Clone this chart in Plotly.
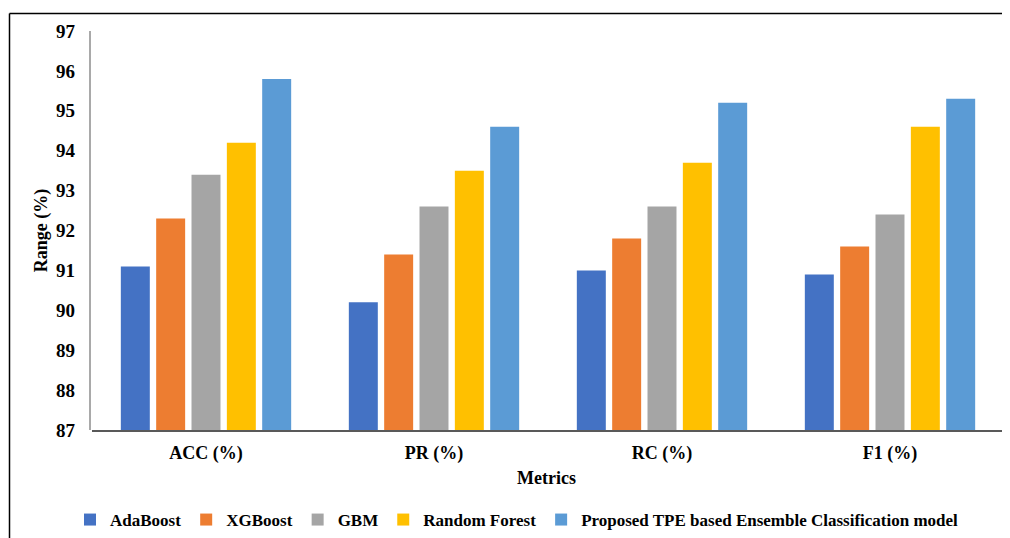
import plotly.graph_objects as go

categories = ["ACC (%)", "PR (%)", "RC (%)", "F1 (%)"]
series_names = ["AdaBoost", "XGBoost", "GBM", "Random Forest",
                "Proposed TPE based Ensemble Classification model"]
adaboost = [91.1, 90.2, 91.0, 90.9]
xgboost = [92.3, 91.4, 91.8, 91.6]
gbm = [93.4, 92.6, 92.6, 92.4]
random_forest = [94.2, 93.5, 93.7, 94.6]
proposed = [95.8, 94.6, 95.2, 95.3]
y_ticks = [87, 88, 89, 90, 91, 92, 93, 94, 95, 96, 97]

colors = ["#4472C4", "#ED7D31", "#A5A5A5", "#FFC000", "#5B9BD5"]
all_values = [adaboost, xgboost, gbm, random_forest, proposed]

FONT = "Liberation Serif, Times New Roman, serif"

fig = go.Figure()
for name, vals, col in zip(series_names, all_values, colors):
    fig.add_trace(go.Bar(
        name=name, x=categories, y=vals,
        marker=dict(color=col, line=dict(width=0)),
    ))

# page has an 8px body margin; figure coordinates = page coordinates - 8
OFF = 8
W, H = 1010 - OFF, 538 - OFF
L = 92 - OFF
T = 31 - OFF
plot_right = 1004 - OFF
plot_bottom = 430 - OFF
R = W - plot_right
B = H - plot_bottom
pw = W - L - R
ph = H - T - B

def px_x(x):
    return (x - OFF - L) / pw

def px_y(y):
    return (plot_bottom - (y - OFF)) / ph

fig.update_layout(
    width=W, height=H,
    margin=dict(l=L, r=R, t=T, b=B, pad=0, autoexpand=False),
    paper_bgcolor="white", plot_bgcolor="white",
    barmode="group", bargap=0.225, bargroupgap=0.18,
    font=dict(family=FONT, color="#000000", size=18),
    showlegend=True,
    legend=dict(
        orientation="h",
        x=px_x(84 - 14), xanchor="left",
        y=px_y(520), yanchor="middle",
        font=dict(family=FONT, size=17, weight="bold", color="#000000"),
        itemwidth=30, traceorder="normal",
        bgcolor="rgba(0,0,0,0)",
    ),
    xaxis=dict(
        automargin=False,
        showgrid=False, showline=True, linecolor="#595959", linewidth=1.5,
        ticks="", tickfont=dict(family=FONT, size=18, weight="bold", color="#000000"),
        ticklabelstandoff=6,
    ),
    yaxis=dict(
        automargin=True,
        range=[87, 97], tickvals=y_ticks, showgrid=False, zeroline=False,
        showline=False, ticks="",
        tickfont=dict(family=FONT, size=19, weight="bold", color="#000000"),
        ticklabelstandoff=16,
        title=dict(text="Range (%)", font=dict(family=FONT, size=18, weight="bold", color="#000000"),
                   standoff=3),
    ),
    annotations=[
        dict(text="Metrics", xref="paper", yref="paper",
             x=px_x(546), y=px_y(478), xanchor="center", yanchor="middle",
             showarrow=False,
             font=dict(family=FONT, size=18, weight="bold", color="#000000")),
    ],
    shapes=[
        dict(type="line", xref="paper", yref="paper",
             x0=px_x(90), x1=px_x(90), y0=0, y1=1,
             line=dict(color="#8C8C8C", width=1.5)),
        dict(type="line", xref="paper", yref="paper",
             x0=px_x(9.5), x1=px_x(9.5), y0=px_y(538), y1=px_y(13.5),
             line=dict(color="#000000", width=1.5)),
        dict(type="line", xref="paper", yref="paper",
             x0=px_x(9.5), x1=px_x(1010), y0=px_y(13.5), y1=px_y(13.5),
             line=dict(color="#000000", width=1.5)),
    ],
)

fig.write_html("out.html")
